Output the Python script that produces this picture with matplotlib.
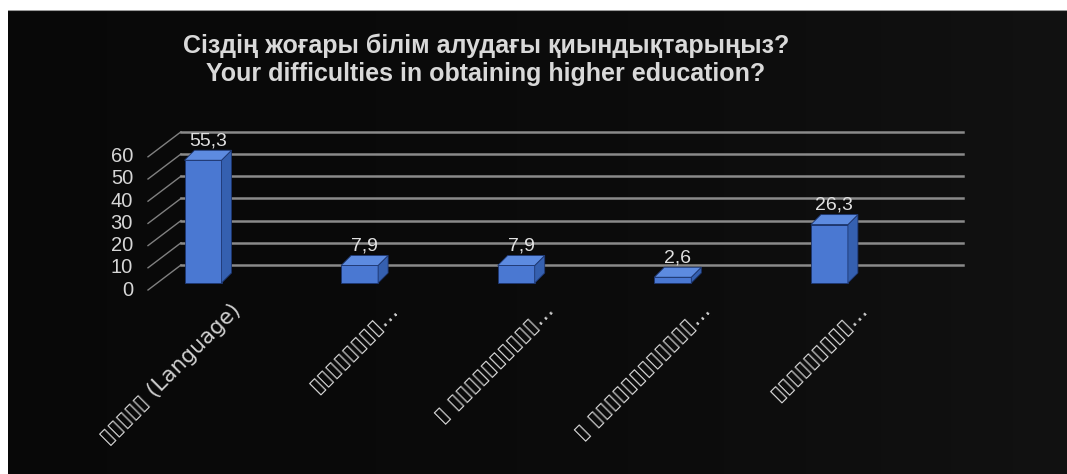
import matplotlib
matplotlib.use("Agg")
import matplotlib.pyplot as plt
import numpy as np
from matplotlib.patches import Polygon

# данные
title_kk = "Сіздің жоғары білім алудағы қиындықтарыңыз?"
title_en = "Your difficulties in obtaining higher education?"
categories = ["▯▯▯▯▯ (Language)", "▯▯▯▯▯▯▯▯…", "▯ ▯▯▯▯▯▯▯▯▯▯…",
              "▯ ▯▯▯▯▯▯▯▯▯▯▯▯…", "▯▯▯▯▯▯▯▯▯…"]
values = [55.3, 7.9, 7.9, 2.6, 26.3]
value_labels = ["55,3", "7,9", "7,9", "2,6", "26,3"]
y_ticks = [0, 10, 20, 30, 40, 50, 60]

W, H = 1067, 474
PX_X = 156.6   # px per category
PX_Y = 2.22    # px per unit
X0 = 197       # px of category 0 (front plane)
Y0 = 290       # px from top of value 0 (front plane)

fig = plt.figure(figsize=(W / 100, H / 100), dpi=100, facecolor="white")

# dark panel
bg = fig.add_axes([8 / W, 0, 1 - 8 / W, (H - 10) / H])
grad = np.linspace(0, 1, 256)
g = 0.035 + 0.035 * grad ** 2
img = np.dstack([np.tile(g, (10, 1))] * 3)
bg.imshow(img, aspect="auto", extent=[0, 1, 0, 1])
bg.axhline(1, color="#9a9a9a", lw=1.5)
bg.set_axis_off()

ax = fig.add_axes([0, 0, 1, 1])
ax.set_xlim(-X0 / PX_X, (W - X0) / PX_X)
ax.set_ylim(-(H - Y0) / PX_Y, Y0 / PX_Y)
ax.set_axis_off()
ax.patch.set_alpha(0)

def dx(px):
    return px / PX_X

def dy(px):
    return px / PX_Y

# стенка и сетка
x_left = dx(148 - X0)
x_right = dx(963 - X0)
bx, by = dx(33), dy(25)
for v in y_ticks:
    ax.plot([x_left, x_left + bx], [v, v + by], color="#808080", lw=1.0, zorder=1)
    ax.plot([x_left + bx, x_right], [v + by, v + by], color="#8a8a8a", lw=1.8, zorder=1)
    ax.text(x_left - dx(15), v, str(v), ha="right", va="center",
            color="#d6d6d6", fontsize=14.5, family=["Liberation Sans", "DejaVu Sans"])

# столбцы
bar_w = dx(37)
off_x, off_y = dx(6), dy(7)
depth_x, depth_y = dx(10), dy(10)
x = np.arange(len(values))
xc = x + off_x
ax.bar(xc, values, width=bar_w, bottom=off_y, color="#4a78d2",
       edgecolor="#1d3670", lw=0.6, zorder=3)
for xi, v, lab in zip(xc, values, value_labels):
    l, r = xi - bar_w / 2, xi + bar_w / 2
    b, t = off_y, off_y + v
    side = Polygon([(r, b), (r + depth_x, b + depth_y), (r + depth_x, t + depth_y), (r, t)],
                   closed=True, fc="#3560b0", ec="#1d3670", lw=0.6, zorder=3)
    top = Polygon([(l, t), (r, t), (r + depth_x, t + depth_y), (l + depth_x, t + depth_y)],
                  closed=True, fc="#5d8be0", ec="#1d3670", lw=0.6, zorder=3)
    ax.add_patch(side)
    ax.add_patch(top)
    ax.text(xi + depth_x / 2, t + depth_y + dy(1), lab, ha="center", va="bottom",
            color="#e0e0e0", fontsize=14, family=["Liberation Sans", "DejaVu Sans"], zorder=4)

# подписи категорий
for xi, cat in zip(xc, categories):
    ax.text(xi + dx(28), dy(Y0 - 300), cat, rotation=45, rotation_mode="anchor",
            ha="right", va="top", color="#cfcfcf", fontsize=15.5,
            family=["DejaVu Sans"])

fig.text(486 / W, 1 - 46 / H, title_kk, ha="center", va="center", color="#d9d9d9",
         fontsize=18, fontweight="bold", family=["Liberation Sans", "DejaVu Sans"])
fig.text(486 / W, 1 - 74 / H, title_en, ha="center", va="center", color="#d9d9d9",
         fontsize=18, fontweight="bold", family=["Liberation Sans", "DejaVu Sans"])

fig.savefig("out.png", dpi=100, facecolor="white")
